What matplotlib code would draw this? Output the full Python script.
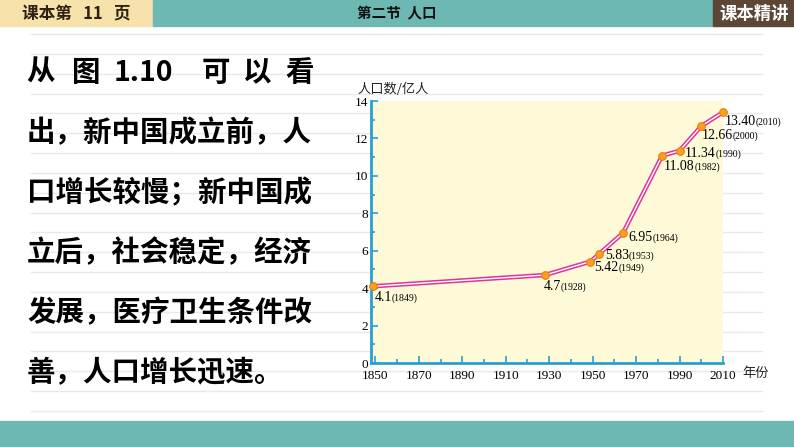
import numpy as np
import matplotlib
matplotlib.use('Agg')
import matplotlib.pyplot as plt
from matplotlib.patches import Rectangle
from matplotlib.lines import Line2D
from matplotlib.ticker import MultipleLocator

plt.rcParams['font.family'] = ['Noto Sans CJK SC', 'DejaVu Sans']

# data
years = [1849, 1928, 1949, 1953, 1964, 1982, 1990, 2000, 2010]
pop = [4.1, 4.7, 5.42, 5.83, 6.95, 11.08, 11.34, 12.66, 13.40]
pop_labels = ['4.1', '4.7', '5.42', '5.83', '6.95', '11.08', '11.34', '12.66', '13.40']
# label offsets (points) from each marker
label_off = [(1, -8), (-1, -8), (3, -4), (4, -1), (4, -3), (1, -8), (4, -2), (0, -7), (1, -7)]
xticks = list(range(1850, 2011, 20))
yticks = list(range(0, 15, 2))

first_line = ['从', '图', '1.10', '可', '以', '看']
first_line_cx = [41, 86, 143, 216, 257, 300]
body_lines = ['出，新中国成立前，人', '口增长较慢；新中国成',
              '立后，社会稳定，经济', '发展，医疗卫生条件改', '善，人口增长迅速。']

W, H = 794, 447
fig = plt.figure(figsize=(W / 100, H / 100), dpi=100)

def fx(px):
    return px / W

def fy(py):
    return 1 - py / H

# notebook rules
for y in np.linspace(34, 411, 20):
    fig.add_artist(Line2D([fx(31), fx(762)], [fy(y), fy(y)], color='#e9e9e9', lw=1, zorder=-1))

# header / footer bands
fig.add_artist(Rectangle((0, fy(26)), fx(153), fy(0) - fy(26), color='#f8e2ab', zorder=-1))
fig.add_artist(Rectangle((fx(153), fy(26)), fx(713 - 153), fy(0) - fy(26), color='#6db8b2', zorder=-1))
fig.add_artist(Rectangle((fx(713), fy(26)), fx(W - 713), fy(0) - fy(26), color='#5d4633', zorder=-1))
fig.add_artist(Rectangle((0, 0), 1, fy(421), color='#6db8b2', zorder=-1))

fig.text(fx(22), fy(14), '课本第   11   页', fontsize=12, fontweight='bold', color='#2e2114',
         ha='left', va='center')
fig.text(fx(397), fy(13), '第二节  人口', fontsize=10.5, fontweight='bold', color='#111111',
         ha='center', va='center')
fig.text(fx(754), fy(14), '课本精讲', fontsize=12.5, fontweight='bold', color='white',
         ha='center', va='center')

for s, x in zip(first_line, first_line_cx):
    fig.text(fx(x), fy(73), s, fontsize=20.5, fontweight='bold', color='black',
             ha='center', va='center')
for i, s in enumerate(body_lines):
    fig.text(fx(27), fy(133 + 60 * i), s, fontsize=20.5, fontweight='bold', color='black',
             ha='left', va='center')

# chart
ax = fig.add_axes([fx(371), fy(363), fx(723 - 371), fy(101) - fy(363)])
ax.set_facecolor('#fefad8')
ax.set_xlim(1848, 2010)
ax.set_ylim(0, 14)

ax.plot(years, pop, color='#e0349c', lw=3.2, solid_capstyle='round', zorder=3)
ax.plot(years, pop, color='white', lw=1.0, zorder=4)
ax.plot(years, pop, 'o', ms=5.5, mfc='#f7a21e', mec='#ee7d10', mew=0.8, zorder=5, clip_on=False)

for x, y, v, (dx, dy) in zip(years, pop, pop_labels, label_off):
    t = ax.annotate(v, (x, y), xytext=(dx, dy), textcoords='offset points',
                    fontsize=10, family='Liberation Serif', ha='left', va='center', zorder=6)
    ax.annotate('(%d)' % x, xy=(1, 0.45), xycoords=t, fontsize=7, family='Liberation Serif',
                ha='left', va='center', zorder=6)

for side in ['top', 'right']:
    ax.spines[side].set_visible(False)
for side in ['left', 'bottom']:
    ax.spines[side].set_color('#27a0d4')
    ax.spines[side].set_linewidth(2)

ax.set_xticks(xticks)
ax.set_yticks(yticks)
ax.xaxis.set_minor_locator(MultipleLocator(10))
ax.yaxis.set_minor_locator(MultipleLocator(1))
ax.tick_params(which='both', direction='in', color='#27a0d4', width=1.2)
ax.tick_params(which='major', length=5, labelsize=9.5)
ax.tick_params(axis='x', which='major', pad=5)
ax.tick_params(axis='y', which='major', pad=2)
ax.tick_params(which='minor', length=3)
for lab in ax.get_xticklabels() + ax.get_yticklabels():
    lab.set_family('Liberation Serif')

fig.text(fx(357), fy(89), '人口数/亿人', fontsize=9.5, color='#222222', ha='left', va='center')
fig.text(fx(742), fy(374), '年份', fontsize=9.5, color='#222222', ha='left', va='center')

fig.savefig('out.png', dpi=100)
